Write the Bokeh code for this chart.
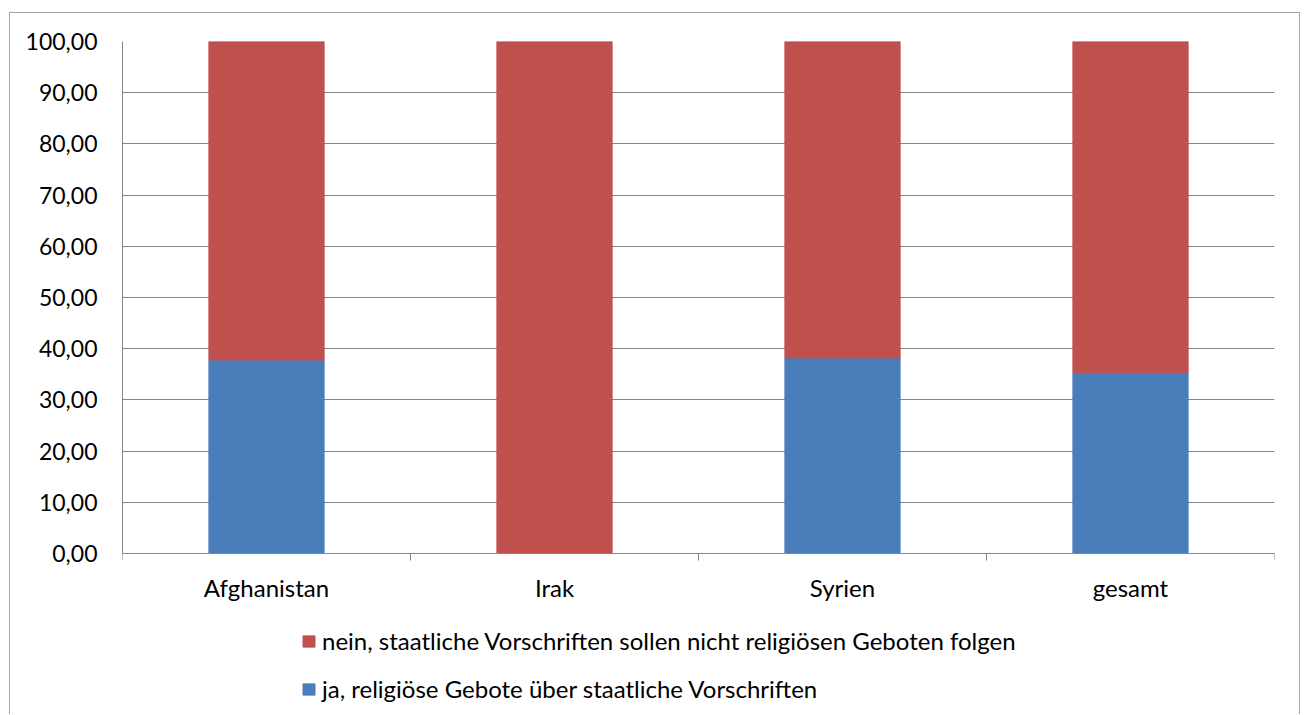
from bokeh.plotting import figure
from bokeh.models import (ColumnDataSource, Range1d, FixedTicker, Legend, LegendItem)
from bokeh.core.properties import value
from bokeh.embed import file_html
from bokeh.resources import INLINE

# ---- data ----
categories = ["Afghanistan", "Irak", "Syrien", "gesamt"]
ja_values = [37.8, 0.0, 38.2, 35.3]
nein_values = [62.2, 100.0, 61.8, 64.7]
series_labels = ["nein, staatliche Vorschriften sollen nicht religiösen Geboten folgen",
                 "ja, religiöse Gebote über staatliche Vorschriften"]
y_ticks = [0, 10, 20, 30, 40, 50, 60, 70, 80, 90, 100]
y_tick_labels = ["0,00", "10,00", "20,00", "30,00", "40,00", "50,00",
                 "60,00", "70,00", "80,00", "90,00", "100,00"]

FONT = "Lato"
FS = "23px"
FS_L = "24px"
GRAY = "#868686"
RED = "#C0504D"
BLUE = "#4A7EBB"

# layout (pixels)
FRAME_H = 664     # frame height incl. legend area below the value axis
PLOT_H = 512      # pixel height of the 0..100 value span
y_start = -(FRAME_H - PLOT_H) / (PLOT_H / 100.0)

x_pos = [i + 0.5 for i in range(len(categories))]
source = ColumnDataSource(dict(x=x_pos, ja=ja_values, nein=nein_values, cat=categories))

p = figure(width=1291, height=702, output_backend="svg", toolbar_location=None,
           x_range=Range1d(0, len(categories)), y_range=Range1d(y_start, 100),
           min_border_left=112, min_border_right=27, min_border_top=28,
           min_border_bottom=702 - 28 - FRAME_H)
p.styles = {"border-left": "1px solid #a6a6a6", "border-top": "1px solid #a6a6a6",
            "border-right": "1px solid #a6a6a6",
            "margin-left": "9px", "margin-top": "12px"}
p.outline_line_color = None
p.background_fill_color = "white"

rs = p.vbar_stack(["ja", "nein"], x="x", width=0.4, color=[BLUE, RED], source=source)

# category labels under the value axis
p.text(x="x", y=0, text="cat", source=source, y_offset=34,
       text_align="center", text_baseline="middle",
       text_font=value(FONT), text_font_size=value(FS_L), text_color="black")

# x axis at value 0, ticks at category boundaries
p.xaxis.fixed_location = 0
p.xaxis.ticker = FixedTicker(ticks=x_pos, minor_ticks=list(range(len(categories) + 1)))
p.xaxis.major_label_overrides = {x: "" for x in x_pos}
p.xaxis.major_label_text_font_size = "0px"
p.xaxis.major_label_standoff = 0
p.xaxis.major_tick_line_color = None
p.xaxis.minor_tick_line_color = GRAY
p.xaxis.minor_tick_in = 0
p.xaxis.minor_tick_out = 7
p.xaxis.axis_line_color = GRAY

p.yaxis.ticker = FixedTicker(ticks=y_ticks)
p.yaxis.bounds = (0, 100)
p.yaxis.major_label_overrides = {t: l for t, l in zip(y_ticks, y_tick_labels)}
p.yaxis.major_tick_line_color = None
p.yaxis.minor_tick_line_color = None
p.yaxis.major_tick_out = 0
p.yaxis.axis_line_color = GRAY
p.yaxis.major_label_standoff = 25
p.yaxis.major_label_text_font = FONT
p.yaxis.major_label_text_font_size = FS
p.yaxis.major_label_text_color = "black"

p.xgrid.grid_line_color = None
p.ygrid.grid_line_color = GRAY
p.ygrid.ticker = FixedTicker(ticks=y_ticks)

legend = Legend(items=[LegendItem(label=series_labels[0], renderers=[rs[1]]),
                       LegendItem(label=series_labels[1], renderers=[rs[0]])],
                location=(179, 2), orientation="vertical",
                glyph_width=15, glyph_height=14, label_standoff=6,
                label_height=28, padding=0, margin=0, spacing=19,
                label_text_font=FONT, label_text_font_size=FS_L,
                label_text_color="black",
                border_line_color=None, background_fill_alpha=0)
p.add_layout(legend)

open("out.html", "w").write(file_html(p, INLINE))
